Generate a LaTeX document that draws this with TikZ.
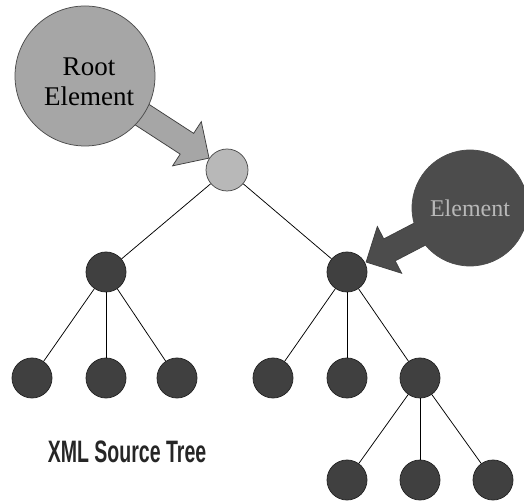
\documentclass[tikz,border=0pt]{standalone}
\usepackage{fontspec}
\setmainfont{Liberation Serif}
\newfontfamily\treefont[FakeStretch=0.63]{Liberation Sans}
\usepackage{tikz}
\usetikzlibrary{shapes.arrows,calc}
\tikzset{every picture/.style={line width=0.75pt}}
\tikzset{
  elem/.style={circle,draw=black!85,fill=black!75,minimum size=40pt,inner sep=0pt},
  rootelem/.style={circle,draw=black!70,fill=black!28,minimum size=42pt,inner sep=0pt},
  bubble/.style={circle,draw=black!70,inner sep=0pt},
  blockarrow/.style={single arrow,draw=black!75,inner sep=0pt,text height=12pt,text depth=12pt,
    single arrow head extend=14pt,single arrow head indent=0pt,anchor=tip}
}

\begin{document}
\begin{tikzpicture}[x=1pt,y=1pt]
\useasboundingbox (0,0) rectangle (524,503);
\coordinate (rbc) at (85,427);
\coordinate (ebc) at (470,295);
%
\node[rootelem] (0) at (227,333) {};
\node[elem] (1) at (106,231) {};
\node[elem] (2) at (347,231) {};
\node[elem] (11) at (32,125) {};
\node[elem] (12) at (106,125) {};
\node[elem] (13) at (177,125) {};
\node[elem] (21) at (273,125) {};
\node[elem] (22) at (347,125) {};
\node[elem] (23) at (420,125) {};
\node[elem] (231) at (347,23) {};
\node[elem] (232) at (420,23) {};
\node[elem] (233) at (493,23) {};
%
\begin{scope}[on background layer/.try]
\foreach \Source/\Target in {%
	0/1, 0/2,
	1/11, 1/12, 1/13,
	2/21, 2/22, 2/23,
	23/231, 23/232, 23/233%
    }
\draw (\Source) -- (\Target);
\end{scope}
%
\node[blockarrow,fill=black!35,minimum height=92pt,rotate=-33] at ($(0)!21pt!(rbc)$) {};
\node[blockarrow,fill=black!70,minimum height=78pt,rotate=207.5] at ($(2)!21pt!(ebc)$) {};
%
\node[bubble,fill=black!35,minimum size=140pt] (rb) at (rbc) {};
\node[align=center,font=\fontsize{27}{30}\selectfont] (rbt) at ($(rb)+(4,-6)$) {Root\\Element};
\node[bubble,fill=black!70,minimum size=116pt,text=black!28,font=\fontsize{24}{26}\selectfont] (eb) at (ebc) {Element};
%
\node[font=\treefont\bfseries\fontsize{31}{34}\selectfont,text=black!85] (lbl) at (127,51) {XML Source Tree};
\end{tikzpicture}
\end{document}
